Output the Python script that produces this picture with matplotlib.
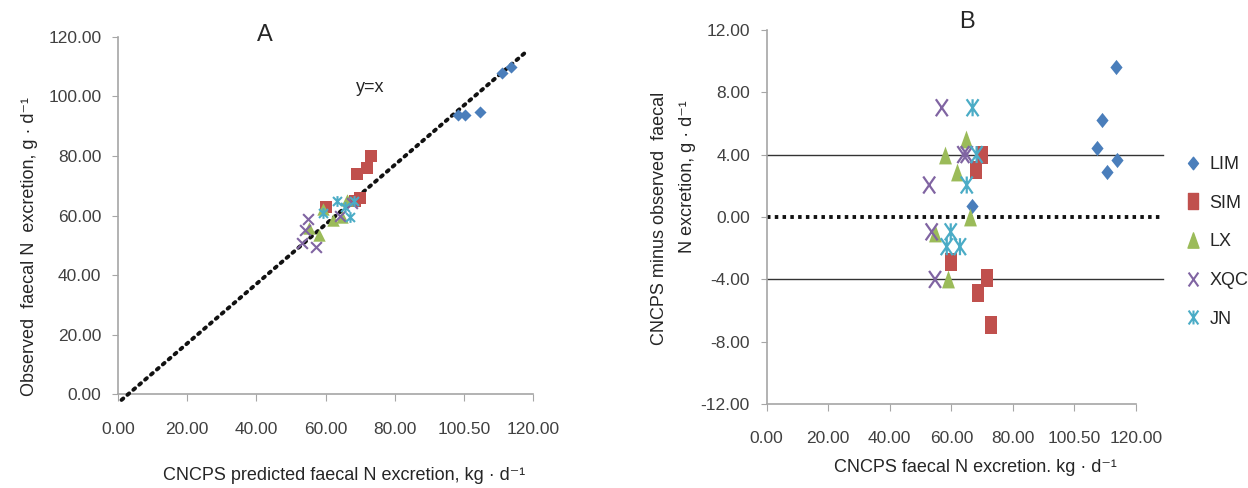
import matplotlib
matplotlib.use("Agg")
import matplotlib.pyplot as plt
from matplotlib.path import Path

plt.rcParams['font.family'] = ['Liberation Sans', 'DejaVu Sans']

# ---------------- Panel A data (predicted vs observed) ----------------
a_lim_x = [98.4, 100.3, 104.7, 111.0, 113.6]
a_lim_y = [93.8, 93.8, 94.9, 107.8, 109.8]
a_sim_x = [73.1, 72.1, 69.0, 70.0, 68.5, 60.2]
a_sim_y = [80.0, 75.9, 73.9, 65.8, 65.0, 62.8]
a_lx_x = [59.2, 66.1, 62.3, 64.7, 55.3, 58.2]
a_lx_y = [62.2, 65.2, 58.5, 59.4, 55.7, 53.4]
a_xqc_x = [55.0, 54.1, 53.1, 57.2, 64.2, 67.6]
a_xqc_y = [58.7, 55.1, 50.6, 49.5, 59.8, 64.3]
a_jn_x = [63.2, 59.4, 67.1, 68.2, 65.6]
a_jn_y = [64.9, 60.7, 59.4, 65.0, 63.0]
a_ref_x = [1.0, 118.0]
a_ref_y = [-2.0, 115.0]

# ---------------- Panel B data (predicted minus observed) ----------------
b_lim_x = [107.3, 108.9, 113.5, 110.6, 113.8, 66.7]
b_lim_y = [4.4, 6.2, 9.6, 2.9, 3.65, 0.7]
b_sim_x = [69.8, 67.9, 59.8, 71.7, 68.7, 72.8]
b_sim_y = [4.0, 3.0, -2.9, -3.9, -4.9, -6.9]
b_lx_x = [64.7, 57.9, 61.9, 66.0, 54.7, 59.0]
b_lx_y = [5.0, 4.0, 2.9, 0.0, -1.05, -4.0]
b_xqc_x = [56.9, 52.8, 63.9, 65.0, 53.6, 54.7]
b_xqc_y = [7.0, 2.05, 4.0, 4.0, -0.95, -4.0]
b_jn_x = [66.9, 68.2, 65.0, 59.8, 58.5, 62.8]
b_jn_y = [7.0, 4.0, 2.05, -0.95, -1.9, -1.9]

x_ticks = [0, 20, 40, 60, 80, 100, 120]
x_ticklabels = ['0.00', '20.00', '40.00', '60.00', '80.00', '100.50', '120.00']
a_y_ticks = [0, 20, 40, 60, 80, 100, 120]
b_y_ticks = [-12, -8, -4, 0, 4, 8, 12]
series_names = ['LIM', 'SIM', 'LX', 'XQC', 'JN']

colors = {'LIM': '#4a7ebb', 'SIM': '#c0504d', 'LX': '#9bbb59', 'XQC': '#8064a2', 'JN': '#4bacc6'}


def closed(verts):
    v = list(verts) + [verts[0]]
    return Path(v, [Path.MOVETO] + [Path.LINETO] * (len(verts) - 1) + [Path.CLOSEPOLY])


def crosses(segs):
    v, c = [], []
    for a, b in segs:
        v += [a, b]
        c += [Path.MOVETO, Path.LINETO]
    return Path(v, c)


# panel A: nearly square markers
starA = crosses([((-1, -1), (1, 1)), ((-1, 1), (1, -1)), ((0, -1.2), (0, 1.2))])
mkA = {
    'LIM': dict(marker='D', s=38, color=colors['LIM'], linewidths=0),
    'SIM': dict(marker='s', s=78, color=colors['SIM'], linewidths=0),
    'LX': dict(marker='^', s=80, color=colors['LX'], linewidths=0),
    'XQC': dict(marker='x', s=60, color=colors['XQC'], linewidths=1.5),
    'JN': dict(marker=starA, s=60, color=colors['JN'], linewidths=1.5),
}
# panel B: markers stretched vertically (as in the reference)
diaB = closed([(0, -1), (0.8, 0), (0, 1), (-0.8, 0)])
sqB = closed([(-0.7, -1), (0.7, -1), (0.7, 1), (-0.7, 1)])
triB = closed([(0, 1), (0.72, -1), (-0.72, -1)])
xB = crosses([((-0.7, -1), (0.7, 1)), ((-0.7, 1), (0.7, -1))])
starB = crosses([((-0.7, -1), (0.7, 1)), ((-0.7, 1), (0.7, -1)), ((0, -1), (0, 1))])
mkB = {
    'LIM': dict(marker=diaB, s=120, color=colors['LIM'], linewidths=0),
    'SIM': dict(marker=sqB, s=150, color=colors['SIM'], linewidths=0),
    'LX': dict(marker=triB, s=165, color=colors['LX'], linewidths=0),
    'XQC': dict(marker=xB, s=150, facecolors='none', edgecolors=colors['XQC'], linewidths=1.6),
    'JN': dict(marker=starB, s=150, facecolors='none', edgecolors=colors['JN'], linewidths=1.6),
}

tick_color = '#404040'
spine_color = '#a6a6a6'
text_color = '#262626'
fs = 12.5

fig = plt.figure(figsize=(12.48, 4.88), dpi=100)

# ---------------- Panel A ----------------
axA = fig.add_axes([0.0946, 0.1926, 0.3325, 0.7316])
axA.plot(a_ref_x, a_ref_y, color='#111111', linestyle=(0, (0.6, 1.4)), linewidth=2.8,
         dash_capstyle='round', clip_on=False, zorder=3)
data_a = {'LIM': (a_lim_x, a_lim_y), 'SIM': (a_sim_x, a_sim_y), 'LX': (a_lx_x, a_lx_y),
          'XQC': (a_xqc_x, a_xqc_y), 'JN': (a_jn_x, a_jn_y)}
for name in ['SIM', 'LX', 'XQC', 'JN', 'LIM']:
    xs, ys = data_a[name]
    axA.scatter(xs, ys, zorder=4, clip_on=False, **mkA[name])
axA.set_xlim(0, 120)
axA.set_ylim(0, 120)
axA.set_xticks(x_ticks)
axA.set_xticklabels(x_ticklabels)
axA.set_yticks(a_y_ticks)
axA.set_yticklabels(['%.2f' % v for v in a_y_ticks])
for s in ['top', 'right']:
    axA.spines[s].set_visible(False)
for s in ['left', 'bottom']:
    axA.spines[s].set_color(spine_color)
    axA.spines[s].set_linewidth(1.2)
axA.tick_params(axis='x', colors=spine_color, labelcolor=tick_color, labelsize=fs, length=5, pad=15, direction='out')
axA.tick_params(axis='y', colors=spine_color, labelcolor=tick_color, labelsize=fs, length=4, pad=8)
fig.text(370 / 1248, 1 - 88 / 488, 'y=x', fontsize=13, color=text_color, ha='center', va='center')
fig.text(265 / 1248, 1 - 35 / 488, 'A', fontsize=17, color=text_color, ha='center', va='center')
fig.text(344 / 1248, 1 - 476 / 488, 'CNCPS predicted faecal N excretion, kg · d⁻¹', fontsize=13,
         color=text_color, ha='center', va='center')
fig.text(30 / 1248, 1 - 97 / 488, 'Observed  faecal N  excretion, g · d⁻¹', fontsize=13,
         color=text_color, ha='center', va='top', rotation=90)

# ---------------- Panel B ----------------
axB = fig.add_axes([0.6143, 0.1715, 0.2960, 0.7676])
for yv in [4, -4]:
    axB.plot([0, 128.8], [yv, yv], color='#333333', linewidth=1.0, clip_on=False, zorder=2)
axB.plot([0, 128.8], [0, 0], color='#111111', linewidth=2.8, linestyle=(0, (0.9, 1.1)),
         clip_on=False, zorder=2)
data_b = {'LIM': (b_lim_x, b_lim_y), 'SIM': (b_sim_x, b_sim_y), 'LX': (b_lx_x, b_lx_y),
          'XQC': (b_xqc_x, b_xqc_y), 'JN': (b_jn_x, b_jn_y)}
handles = []
for name in series_names:
    xs, ys = data_b[name]
    h = axB.scatter(xs, ys, zorder=4, label=name, clip_on=False, **mkB[name])
    handles.append(h)
axB.set_xlim(0, 120)
axB.set_ylim(-12, 12)
axB.set_xticks(x_ticks)
axB.set_xticklabels(x_ticklabels)
axB.set_yticks(b_y_ticks)
axB.set_yticklabels(['%.2f' % v for v in b_y_ticks])
for s in ['top', 'right']:
    axB.spines[s].set_visible(False)
for s in ['left', 'bottom']:
    axB.spines[s].set_color(spine_color)
    axB.spines[s].set_linewidth(1.2)
axB.tick_params(axis='x', colors=spine_color, labelcolor=tick_color, labelsize=fs, length=5, pad=14, direction='out')
axB.tick_params(axis='y', colors=spine_color, labelcolor=tick_color, labelsize=fs, length=4, pad=8)
fig.text(967 / 1248, 1 - 22 / 488, 'B', fontsize=17, color=text_color, ha='center', va='center')
fig.text(975 / 1248, 1 - 467 / 488, 'CNCPS faecal N excretion. kg · d⁻¹', fontsize=13,
         color=text_color, ha='center', va='center')
fig.text(660 / 1248, 1 - 92 / 488, 'CNCPS minus observed  faecal', fontsize=13,
         color=text_color, ha='center', va='top', rotation=90)
fig.text(688 / 1248, 1 - 100 / 488, 'N excretion, g · d⁻¹', fontsize=13,
         color=text_color, ha='center', va='top', rotation=90)

leg_handles = [
    plt.Line2D([], [], linestyle='none', marker=diaB, markersize=9, color=colors['LIM']),
    plt.Line2D([], [], linestyle='none', marker=sqB, markersize=11, color=colors['SIM']),
    plt.Line2D([], [], linestyle='none', marker=triB, markersize=11, color=colors['LX']),
    plt.Line2D([], [], linestyle='none', marker=xB, markersize=10, markerfacecolor='none',
               markeredgecolor=colors['XQC'], markeredgewidth=1.5),
    plt.Line2D([], [], linestyle='none', marker=starB, markersize=10, markerfacecolor='none',
               markeredgecolor=colors['JN'], markeredgewidth=1.5),
]
leg = fig.legend(handles=leg_handles, labels=series_names, loc='upper left',
                 bbox_to_anchor=(1184 / 1248, 1 - 156 / 488), frameon=False, fontsize=13,
                 labelspacing=1.2, handletextpad=0.4, handlelength=1.0, borderaxespad=0,
                 borderpad=0)
for t in leg.get_texts():
    t.set_color(text_color)

fig.savefig('out.png', dpi=100)
